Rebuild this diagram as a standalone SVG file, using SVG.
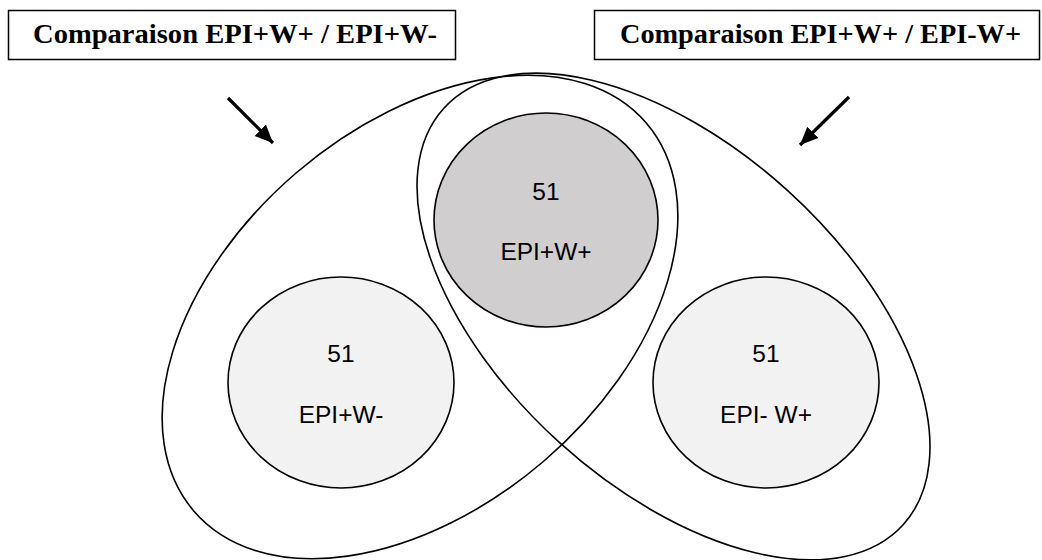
<svg xmlns="http://www.w3.org/2000/svg" width="1042" height="560" viewBox="0 0 1042 560">
<style>
.bg{fill:#ffffff}
.box{fill:#ffffff;stroke:#000000;stroke-width:1.5}
.title{font-family:"Liberation Serif","Times New Roman",serif;font-weight:bold;font-size:28px;fill:#000000}
.group{fill:none;stroke:#000000;stroke-width:1.6}
.light{fill:#F2F2F2;stroke:#000000;stroke-width:1.6}
.dark{fill:#D0CECE;stroke:#000000;stroke-width:1.6}
.lbl{font-family:"Liberation Sans",Arial,sans-serif;font-size:24.5px;fill:#000000;text-anchor:middle}
.arrow{stroke:#000000;stroke-width:3.2;fill:none}
</style>
<defs>
<marker id="head" markerUnits="userSpaceOnUse" markerWidth="20" markerHeight="20" viewBox="0 0 20 20" refX="18" refY="10" orient="auto">
<path d="M0,2 L18,10 L0,18 Z" fill="#000000"/>
</marker>
</defs>
<rect class="bg" x="0" y="0" width="1042" height="560"/>
<g id="box-left">
<rect class="box" x="8.5" y="10.5" width="447" height="49"/>
<text class="title" x="33" y="43" textLength="404" lengthAdjust="spacingAndGlyphs">Comparaison EPI+W+ / EPI+W-</text>
</g>
<g id="box-right">
<rect class="box" x="594.5" y="10.5" width="445" height="49"/>
<text class="title" x="620" y="43" textLength="401" lengthAdjust="spacingAndGlyphs">Comparaison EPI+W+ / EPI-W+</text>
</g>
<g id="set-left">
<ellipse class="group" cx="420" cy="317" rx="298" ry="190" transform="rotate(-40.6 420 317)"/>
</g>
<g id="set-right">
<ellipse class="group" cx="673.5" cy="316.5" rx="310" ry="170" transform="rotate(42.2 673.5 316.5)"/>
</g>
<g id="connectors">
<line class="arrow" x1="228" y1="98" x2="273" y2="143" marker-end="url(#head)"/>
<line class="arrow" x1="849" y1="97" x2="800" y2="145" marker-end="url(#head)"/>
</g>
<g id="node-epi-w-minus">
<ellipse class="light" cx="341" cy="382.5" rx="113" ry="105.5"/>
<text class="lbl" x="341" y="362">51</text>
<text class="lbl" x="341" y="423">EPI+W-</text>
</g>
<g id="node-epi-w-plus">
<ellipse class="dark" cx="546" cy="220" rx="112" ry="107"/>
<text class="lbl" x="546" y="200">51</text>
<text class="lbl" x="546" y="260">EPI+W+</text>
</g>
<g id="node-epi-minus-w-plus">
<ellipse class="light" cx="766" cy="382.5" rx="113" ry="105.5"/>
<text class="lbl" x="766" y="362">51</text>
<text class="lbl" x="766" y="423">EPI- W+</text>
</g>
</svg>
